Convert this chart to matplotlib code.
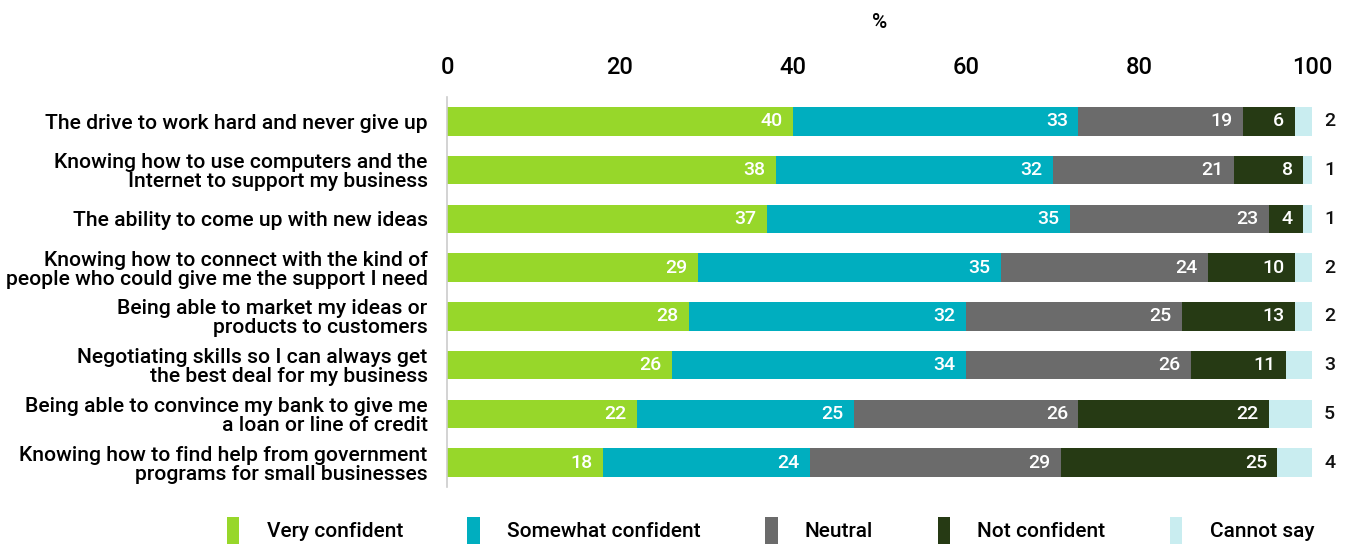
import matplotlib.pyplot as plt
import numpy as np

plt.rcParams['font.family'] = ['Roboto', 'DejaVu Sans']

items = [
    "The drive to work hard and never give up",
    "Knowing how to use computers and the\nInternet to support my business",
    "The ability to come up with new ideas",
    "Knowing how to connect with the kind of\npeople who could give me the support I need",
    "Being able to market my ideas or\nproducts to customers",
    "Negotiating skills so I can always get\nthe best deal for my business",
    "Being able to convince my bank to give me\na loan or line of credit",
    "Knowing how to find help from government\nprograms for small businesses",
]
series = ["Very confident", "Somewhat confident", "Neutral", "Not confident", "Cannot say"]
very = [40, 38, 37, 29, 28, 26, 22, 18]
somewhat = [33, 32, 35, 35, 32, 34, 25, 24]
neutral = [19, 21, 23, 24, 25, 26, 26, 29]
notconf = [6, 8, 4, 10, 13, 11, 22, 25]
cannot = [2, 1, 1, 2, 2, 3, 5, 4]
colors = ["#97d72a", "#00aebf", "#6b6b6b", "#263a14", "#c9edf0"]

data = [very, somewhat, neutral, notconf, cannot]

fig = plt.figure(figsize=(13.47, 5.47), dpi=100)
ax = fig.add_axes([447 / 1347, 60 / 547, 865 / 1347, 390 / 547])

y = np.arange(len(items))
left = np.zeros(len(items))
for vals, name, c in zip(data, series, colors):
    vals = np.array(vals)
    ax.barh(y, vals, left=left, height=0.58, color=c, label=name)
    for yi, l, v in zip(y, left, vals):
        if name == "Cannot say":
            ax.text(101.4, yi, str(v), va='center', ha='left', fontsize=14,
                    weight='medium', color='#111111')
        else:
            ax.text(l + v - 1.2, yi, str(v), va='center', ha='right', fontsize=14,
                    weight='medium', color='white')
    left += vals

ax.set_xlim(0, 100)
ax.set_ylim(len(items) - 0.5, -0.5)
ax.set_yticks(y)
ax.set_yticklabels(items, fontsize=15.2, weight='medium', linespacing=1.0)
ax.xaxis.tick_top()
ax.set_xticks([0, 20, 40, 60, 80, 100])
ax.set_xticklabels(['0', '20', '40', '60', '80', '100'], fontsize=17, weight='medium')
ax.tick_params(axis='x', length=0, pad=13)
ax.tick_params(axis='y', length=0, pad=14)
ax.set_xlabel('%', fontsize=15, weight='medium', labelpad=20)
ax.xaxis.set_label_position('top')
for s in ['top', 'right', 'bottom']:
    ax.spines[s].set_visible(False)
ax.spines['left'].set_color('#cccccc')
ax.spines['left'].set_linewidth(1.2)

fig.legend(loc='lower center', bbox_to_anchor=(0.572, -0.028), ncol=5, frameon=False,
           prop={'size': 15, 'weight': 'medium'}, handlelength=0.6, handleheight=1.6,
           columnspacing=3.1, handletextpad=1.3)

fig.savefig('out.png', dpi=100)
